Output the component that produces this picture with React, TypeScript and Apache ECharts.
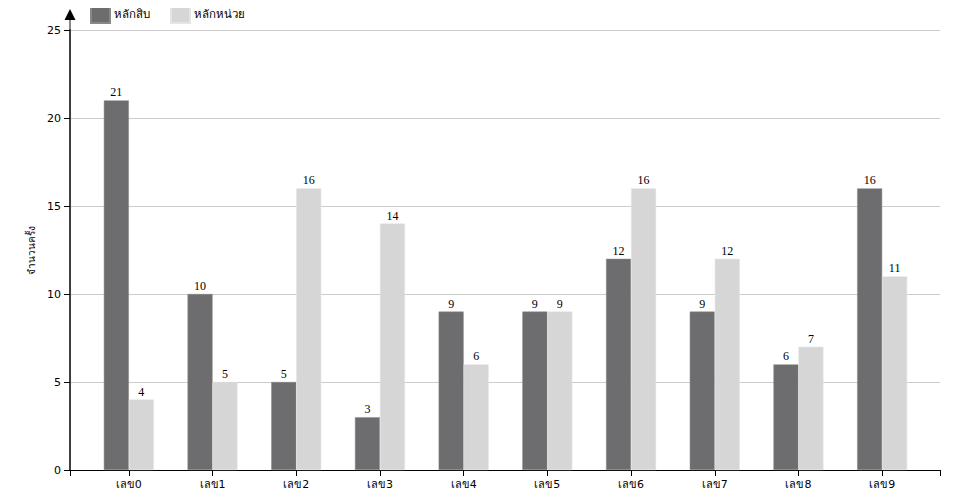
import React, { useEffect, useRef } from "react";
import * as echarts from "echarts";

const categories = ["เลข0", "เลข1", "เลข2", "เลข3", "เลข4", "เลข5", "เลข6", "เลข7", "เลข8", "เลข9"];
const tensValues = [21, 10, 5, 3, 9, 9, 12, 9, 6, 16];
const unitsValues = [4, 5, 16, 14, 6, 9, 16, 12, 7, 11];
const seriesNames = ["หลักสิบ", "หลักหน่วย"];
const yTicks = { min: 0, max: 25, interval: 5 };

const DARK = "#6d6d6f";
const LIGHT = "#d6d6d6";
const SANS = "DejaVu Sans";

export default function App() {
  const ref = useRef<HTMLDivElement>(null);
  useEffect(() => {
    if (!ref.current) return;
    const chart = echarts.init(ref.current, undefined, { renderer: "svg" });
    const labelStyle = {
      show: true,
      position: "top" as const,
      color: "#000000",
      textBorderWidth: 0,
      fontFamily: "Liberation Serif",
      fontSize: 12,
      distance: 2,
    };
    chart.setOption({
      animation: false,
      backgroundColor: "#fff",
      legend: {
        left: 85,
        top: -2,
        itemWidth: 19,
        itemHeight: 19,
        itemGap: 20,
        icon: "rect",
        textStyle: { fontFamily: SANS, fontSize: 11.5, color: "#000", padding: [0, 0, 0, -1] },
        data: seriesNames,
      },
      grid: [
        { left: 70, right: 20, top: 30, bottom: 30, containLabel: false },
        { left: 87, right: 36, top: 30, bottom: 30, containLabel: false },
      ],
      xAxis: [
        {
          type: "value",
          gridIndex: 0,
          min: 0,
          max: 1,
          interval: 1,
          axisLine: { show: true, onZero: false, lineStyle: { color: "#000", width: 1 } },
          axisTick: { show: true, length: 6, lineStyle: { color: "#000" } },
          axisLabel: { show: false },
          splitLine: { show: false },
        },
        {
          type: "category",
          gridIndex: 1,
          data: categories,
          axisLine: { show: false },
          axisTick: { show: true, alignWithLabel: true, length: 6, lineStyle: { color: "#000" } },
          axisLabel: { color: "#000", fontFamily: SANS, fontSize: 11, margin: 9 },
          splitLine: { show: false },
        },
      ],
      yAxis: [
        {
          type: "value",
          gridIndex: 0,
          min: yTicks.min,
          max: yTicks.max,
          interval: yTicks.interval,
          name: "จำนวนครั้ง",
          nameLocation: "middle",
          nameGap: 31,
          nameRotate: 90,
          nameTextStyle: { fontFamily: SANS, fontSize: 10, color: "#000" },
          axisLine: { show: true, lineStyle: { color: "#000", width: 1.5 } },
          axisTick: { show: true, length: 6, lineStyle: { color: "#000" } },
          axisLabel: { color: "#000", fontFamily: SANS, fontSize: 11, margin: 9 },
          splitLine: { show: true, lineStyle: { color: "#cccccc", width: 1 } },
        },
        {
          type: "value",
          gridIndex: 1,
          min: yTicks.min,
          max: yTicks.max,
          interval: yTicks.interval,
          show: false,
          splitLine: { show: false },
        },
      ],
      series: [
        {
          name: seriesNames[0],
          type: "bar",
          xAxisIndex: 1,
          yAxisIndex: 1,
          data: tensValues,
          barWidth: 25,
          barGap: "0%",
          itemStyle: { color: DARK, borderColor: "#888", borderWidth: 0.5 },
          label: labelStyle,
        },
        {
          name: seriesNames[1],
          type: "bar",
          xAxisIndex: 1,
          yAxisIndex: 1,
          data: unitsValues,
          barWidth: 25,
          barGap: "0%",
          itemStyle: { color: LIGHT, borderColor: "#e4e4e4", borderWidth: 0.5 },
          label: labelStyle,
        },
      ],
      graphic: [
        {
          type: "line",
          shape: { x1: 70, y1: 30, x2: 70, y2: 19 },
          style: { stroke: "#888", lineWidth: 2 },
        },
        {
          type: "polygon",
          shape: { points: [[70, 9], [64.5, 20], [75.5, 20]] },
          style: { fill: "#000" },
        },
      ],
    });
    return () => chart.dispose();
  }, []);
  return <div ref={ref} style={{ width: 960, height: 500, margin: -8 }} />;
}
